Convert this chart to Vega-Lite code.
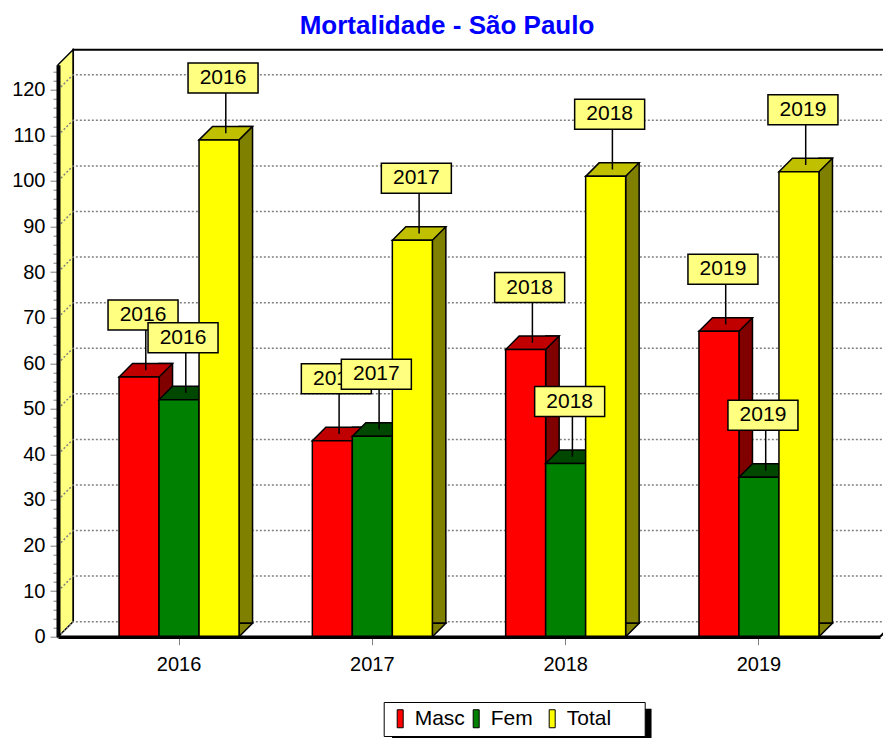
{
  "$schema": "https://vega.github.io/schema/vega-lite/v6.json",
  "width": 822,
  "height": 572,
  "autosize": {"type": "none"},
  "padding": {"left": 58, "top": 64.7, "right": 3, "bottom": 101.3},
  "background": "white",
  "config": {"view": {"stroke": null}, "font": "Liberation Sans"},
  "title": {"text": "Mortalidade - São Paulo", "font": "Liberation Sans", "fontSize": 26, "fontWeight": "bold", "color": "#0000FF", "anchor": "middle", "frame": "group", "dx": -22, "offset": 7},
  "resolve": {"axis": {"x": "independent", "y": "independent"}},
  "data": {"values": [
    {"year": "2016", "series": "Masc", "value": 57},
    {"year": "2016", "series": "Fem", "value": 52},
    {"year": "2016", "series": "Total", "value": 109},
    {"year": "2017", "series": "Masc", "value": 43},
    {"year": "2017", "series": "Fem", "value": 44},
    {"year": "2017", "series": "Total", "value": 87},
    {"year": "2018", "series": "Masc", "value": 63},
    {"year": "2018", "series": "Fem", "value": 38},
    {"year": "2018", "series": "Total", "value": 101},
    {"year": "2019", "series": "Masc", "value": 67},
    {"year": "2019", "series": "Fem", "value": 35},
    {"year": "2019", "series": "Total", "value": 102}
  ]},
  "layer": [
    {
      "data": {"values": [{}]},
      "mark": {"type": "point", "shape": "M-106,-15 L-106,-587 L740,-587 M701,0 L716,-15", "size": 4, "filled": false, "stroke": "black", "strokeWidth": 2, "opacity": 1},
      "encoding": {
        "x": {"datum": "2016", "type": "nominal", "scale": {"type": "band", "paddingInner": 0, "paddingOuter": 0.1262}, "axis": null},
        "y": {"datum": 0, "type": "quantitative", "scale": {"domain": [0, 125.5], "nice": false}, "axis": null}
      }
    },
    {
      "data": {"values": [{}]},
      "mark": {"type": "point", "shape": "M-121,0 L-121,-572 L-106,-587 L-106,-15 Z", "size": 4, "filled": true, "fill": "#FFFF80", "stroke": "black", "strokeWidth": 1.5, "opacity": 1},
      "encoding": {
        "x": {"datum": "2016", "type": "nominal", "scale": {"type": "band", "paddingInner": 0, "paddingOuter": 0.1262}, "axis": null},
        "y": {"datum": 0, "type": "quantitative", "scale": {"domain": [0, 125.5], "nice": false}, "axis": null}
      }
    },
    {
      "data": {"values": [{"t": 0}, {"t": 10}, {"t": 20}, {"t": 30}, {"t": 40}, {"t": 50}, {"t": 60}, {"t": 70}, {"t": 80}, {"t": 90}, {"t": 100}, {"t": 110}, {"t": 120}]},
      "mark": {"type": "point", "shape": "M-121,0 L-106,-15 L740,-15", "size": 4, "filled": false, "stroke": "#808080", "strokeWidth": 1.5, "strokeDash": [2, 2], "opacity": 1},
      "encoding": {
        "x": {"datum": "2016", "type": "nominal", "scale": {"type": "band", "paddingInner": 0, "paddingOuter": 0.1262}, "axis": null},
        "y": {"field": "t", "type": "quantitative", "scale": {"domain": [0, 125.5], "nice": false}, "axis": null}
      }
    },
    {
      "data": {"values": [{}]},
      "mark": {"type": "point", "shape": "M213,72 L472.5,72 L472.5,106 L213,106 Z", "size": 4, "filled": true, "fill": "black", "strokeWidth": 0, "opacity": 1},
      "encoding": {
        "x": {"datum": "2016", "type": "nominal", "scale": {"type": "band", "paddingInner": 0, "paddingOuter": 0.1262}, "axis": null},
        "y": {"datum": 0, "type": "quantitative", "scale": {"domain": [0, 125.5], "nice": false}, "axis": null}
      }
    },
    {
      "transform": [{"filter": "datum.series === 'Masc'"}],
      "mark": {"type": "bar", "width": 13.5, "xOffset": -13.25, "yOffset": -13.5, "y2Offset": -13.5, "fill": "#800000", "stroke": "black", "strokeWidth": 1.5},
      "encoding": {
        "x": {"field": "year", "type": "nominal", "scale": {"type": "band", "paddingInner": 0, "paddingOuter": 0.1262}, "axis": null},
        "y": {"field": "value", "type": "quantitative", "scale": {"domain": [0, 125.5], "nice": false}, "axis": null}
      }
    },
    {
      "transform": [{"filter": "datum.series === 'Masc'"}],
      "mark": {"type": "point", "shape": "M-20,0 L-6.5,-13.5 L33.5,-13.5 L20,0 Z", "size": 4, "xOffset": -40, "filled": true, "fill": "#C00000", "stroke": "black", "strokeWidth": 1.5, "opacity": 1},
      "encoding": {
        "x": {"field": "year", "type": "nominal", "scale": {"type": "band", "paddingInner": 0, "paddingOuter": 0.1262}, "axis": null},
        "y": {"field": "value", "type": "quantitative", "scale": {"domain": [0, 125.5], "nice": false}, "axis": null}
      }
    },
    {
      "transform": [{"filter": "datum.series === 'Masc'"}],
      "mark": {"type": "bar", "width": 40, "xOffset": -40, "stroke": "black", "strokeWidth": 1.5, "opacity": 1},
      "encoding": {
        "x": {"field": "year", "type": "nominal", "scale": {"type": "band", "paddingInner": 0, "paddingOuter": 0.1262},
          "axis": {"orient": "bottom", "title": null, "labelFont": "Liberation Sans", "labelFontSize": 20, "labelColor": "black", "labelPadding": 10, "labelAngle": 0, "tickSize": 8, "tickColor": "#808080", "domainColor": "black", "domainWidth": 3.5, "grid": false, "zindex": 1}},
        "y": {"field": "value", "type": "quantitative", "scale": {"domain": [0, 125.5], "nice": false},
          "axis": {"orient": "left", "title": null, "values": [0, 2, 4, 6, 8, 10, 12, 14, 16, 18, 20, 22, 24, 26, 28, 30, 32, 34, 36, 38, 40, 42, 44, 46, 48, 50, 52, 54, 56, 58, 60, 62, 64, 66, 68, 70, 72, 74, 76, 78, 80, 82, 84, 86, 88, 90, 92, 94, 96, 98, 100, 102, 104, 106, 108, 110, 112, 114, 116, 118, 120, 122, 124],
            "labelExpr": "datum.value % 10 === 0 ? datum.label : ''", "labelOverlap": false, "labelFont": "Liberation Sans", "labelFontSize": 20, "labelColor": "black", "labelPadding": 5,
            "tickSize": {"condition": {"test": "datum.value % 10 === 0", "value": 8}, "value": 5}, "tickColor": "#808080", "domainColor": "black", "domainWidth": 4, "grid": false, "zindex": 1}},
        "color": {"field": "series", "type": "nominal", "scale": {"domain": ["Masc", "Fem", "Total"], "range": ["#FF0000", "#008000", "#FFFF00"]},
          "legend": {"title": "\u00a0", "titleOrient": "right", "titleFontSize": 21, "titlePadding": 28, "orient": "none", "legendX": 325.7, "legendY": 637.3, "direction": "horizontal", "columns": 3, "gridAlign": "all", "strokeColor": "black", "fillColor": "white", "padding": 6, "symbolType": "M-0.333,-1 L0.333,-1 L0.333,1 L-0.333,1 Z", "symbolSize": 324, "symbolStrokeColor": "black", "symbolStrokeWidth": 1, "symbolOpacity": 1, "labelFont": "Liberation Sans", "labelFontSize": 21, "labelColor": "black", "labelOffset": 4, "columnPadding": -3}}
      }
    },
    {
      "transform": [{"filter": "datum.series === 'Fem'"}],
      "mark": {"type": "bar", "width": 13.5, "xOffset": 26.75, "yOffset": -13.5, "y2Offset": -13.5, "fill": "#004000", "stroke": "black", "strokeWidth": 1.5},
      "encoding": {
        "x": {"field": "year", "type": "nominal", "scale": {"type": "band", "paddingInner": 0, "paddingOuter": 0.1262}, "axis": null},
        "y": {"field": "value", "type": "quantitative", "scale": {"domain": [0, 125.5], "nice": false}, "axis": null}
      }
    },
    {
      "transform": [{"filter": "datum.series === 'Fem'"}],
      "mark": {"type": "point", "shape": "M-20,0 L-6.5,-13.5 L33.5,-13.5 L20,0 Z", "size": 4, "xOffset": 0, "filled": true, "fill": "#004800", "stroke": "black", "strokeWidth": 1.5, "opacity": 1},
      "encoding": {
        "x": {"field": "year", "type": "nominal", "scale": {"type": "band", "paddingInner": 0, "paddingOuter": 0.1262}, "axis": null},
        "y": {"field": "value", "type": "quantitative", "scale": {"domain": [0, 125.5], "nice": false}, "axis": null}
      }
    },
    {
      "transform": [{"filter": "datum.series === 'Fem'"}],
      "mark": {"type": "bar", "width": 40, "xOffset": 0, "stroke": "black", "strokeWidth": 1.5, "opacity": 1},
      "encoding": {
        "x": {"field": "year", "type": "nominal", "scale": {"type": "band", "paddingInner": 0, "paddingOuter": 0.1262}, "axis": null},
        "y": {"field": "value", "type": "quantitative", "scale": {"domain": [0, 125.5], "nice": false}, "axis": null},
        "color": {"field": "series", "type": "nominal", "scale": {"domain": ["Masc", "Fem", "Total"], "range": ["#FF0000", "#008000", "#FFFF00"]}, "legend": null}
      }
    },
    {
      "transform": [{"filter": "datum.series === 'Total'"}],
      "mark": {"type": "bar", "width": 13.5, "xOffset": 66.75, "yOffset": -13.5, "y2Offset": -13.5, "fill": "#808000", "stroke": "black", "strokeWidth": 1.5},
      "encoding": {
        "x": {"field": "year", "type": "nominal", "scale": {"type": "band", "paddingInner": 0, "paddingOuter": 0.1262}, "axis": null},
        "y": {"field": "value", "type": "quantitative", "scale": {"domain": [0, 125.5], "nice": false}, "axis": null}
      }
    },
    {
      "transform": [{"filter": "datum.series === 'Total'"}],
      "mark": {"type": "point", "shape": "M20,0 L33.5,-13.5 L20,-13.5 Z", "size": 4, "xOffset": 40, "filled": true, "fill": "#808000", "stroke": "black", "strokeWidth": 1.5, "opacity": 1},
      "encoding": {
        "x": {"field": "year", "type": "nominal", "scale": {"type": "band", "paddingInner": 0, "paddingOuter": 0.1262}, "axis": null},
        "y": {"datum": 0, "type": "quantitative", "scale": {"domain": [0, 125.5], "nice": false}, "axis": null}
      }
    },
    {
      "transform": [{"filter": "datum.series === 'Total'"}],
      "mark": {"type": "point", "shape": "M-20,0 L-6.5,-13.5 L33.5,-13.5 L20,0 Z", "size": 4, "xOffset": 40, "filled": true, "fill": "#C0C000", "stroke": "black", "strokeWidth": 1.5, "opacity": 1},
      "encoding": {
        "x": {"field": "year", "type": "nominal", "scale": {"type": "band", "paddingInner": 0, "paddingOuter": 0.1262}, "axis": null},
        "y": {"field": "value", "type": "quantitative", "scale": {"domain": [0, 125.5], "nice": false}, "axis": null}
      }
    },
    {
      "transform": [{"filter": "datum.series === 'Total'"}],
      "mark": {"type": "bar", "width": 40, "xOffset": 40, "stroke": "black", "strokeWidth": 1.5, "opacity": 1},
      "encoding": {
        "x": {"field": "year", "type": "nominal", "scale": {"type": "band", "paddingInner": 0, "paddingOuter": 0.1262}, "axis": null},
        "y": {"field": "value", "type": "quantitative", "scale": {"domain": [0, 125.5], "nice": false}, "axis": null},
        "color": {"field": "series", "type": "nominal", "scale": {"domain": ["Masc", "Fem", "Total"], "range": ["#FF0000", "#008000", "#FFFF00"]}, "legend": null}
      }
    },
    {
      "transform": [{"filter": "datum.series === 'Masc'"}],
      "mark": {"type": "point", "shape": "M6.75,-6.75 L6.75,-47 M-31,-47 L39,-47 L39,-77 L-31,-77 Z", "size": 4, "xOffset": -40, "filled": true, "fill": "#FFFF80", "stroke": "black", "strokeWidth": 1.5, "opacity": 1},
      "encoding": {
        "x": {"field": "year", "type": "nominal", "scale": {"type": "band", "paddingInner": 0, "paddingOuter": 0.1262}, "axis": null},
        "y": {"field": "value", "type": "quantitative", "scale": {"domain": [0, 125.5], "nice": false}, "axis": null}
      }
    },
    {
      "transform": [{"filter": "datum.series === 'Masc'"}],
      "mark": {"type": "text", "font": "Liberation Sans", "fontSize": 21, "color": "black", "dx": -36, "dy": -62, "baseline": "middle", "align": "center"},
      "encoding": {
        "x": {"field": "year", "type": "nominal", "scale": {"type": "band", "paddingInner": 0, "paddingOuter": 0.1262}, "axis": null},
        "y": {"field": "value", "type": "quantitative", "scale": {"domain": [0, 125.5], "nice": false}, "axis": null},
        "text": {"field": "year"}
      }
    },
    {
      "transform": [{"filter": "datum.series === 'Fem'"}],
      "mark": {"type": "point", "shape": "M6.75,-6.75 L6.75,-47 M-31,-47 L39,-47 L39,-77 L-31,-77 Z", "size": 4, "xOffset": 0, "filled": true, "fill": "#FFFF80", "stroke": "black", "strokeWidth": 1.5, "opacity": 1},
      "encoding": {
        "x": {"field": "year", "type": "nominal", "scale": {"type": "band", "paddingInner": 0, "paddingOuter": 0.1262}, "axis": null},
        "y": {"field": "value", "type": "quantitative", "scale": {"domain": [0, 125.5], "nice": false}, "axis": null}
      }
    },
    {
      "transform": [{"filter": "datum.series === 'Fem'"}],
      "mark": {"type": "text", "font": "Liberation Sans", "fontSize": 21, "color": "black", "dx": 4, "dy": -62, "baseline": "middle", "align": "center"},
      "encoding": {
        "x": {"field": "year", "type": "nominal", "scale": {"type": "band", "paddingInner": 0, "paddingOuter": 0.1262}, "axis": null},
        "y": {"field": "value", "type": "quantitative", "scale": {"domain": [0, 125.5], "nice": false}, "axis": null},
        "text": {"field": "year"}
      }
    },
    {
      "transform": [{"filter": "datum.series === 'Total'"}],
      "mark": {"type": "point", "shape": "M6.75,-6.75 L6.75,-47 M-31,-47 L39,-47 L39,-77 L-31,-77 Z", "size": 4, "xOffset": 40, "filled": true, "fill": "#FFFF80", "stroke": "black", "strokeWidth": 1.5, "opacity": 1},
      "encoding": {
        "x": {"field": "year", "type": "nominal", "scale": {"type": "band", "paddingInner": 0, "paddingOuter": 0.1262}, "axis": null},
        "y": {"field": "value", "type": "quantitative", "scale": {"domain": [0, 125.5], "nice": false}, "axis": null}
      }
    },
    {
      "transform": [{"filter": "datum.series === 'Total'"}],
      "mark": {"type": "text", "font": "Liberation Sans", "fontSize": 21, "color": "black", "dx": 44, "dy": -62, "baseline": "middle", "align": "center"},
      "encoding": {
        "x": {"field": "year", "type": "nominal", "scale": {"type": "band", "paddingInner": 0, "paddingOuter": 0.1262}, "axis": null},
        "y": {"field": "value", "type": "quantitative", "scale": {"domain": [0, 125.5], "nice": false}, "axis": null},
        "text": {"field": "year"}
      }
    }
  ]
}
